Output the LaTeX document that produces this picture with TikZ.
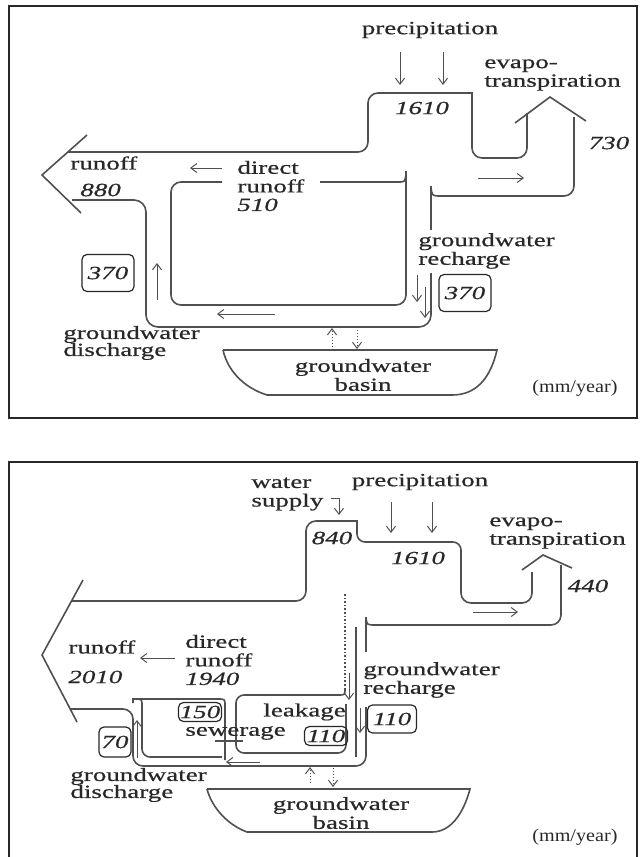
\documentclass[tikz,border=0pt]{standalone}
\usepackage{fontspec}
\setmainfont{Liberation Serif}[FakeStretch=1.45,FakeBold=0.6]
\newfontfamily\unitfont{Liberation Serif}[FakeStretch=1.12]
\usetikzlibrary{arrows.meta}
\definecolor{Ink}{RGB}{80,80,80}
\definecolor{Txt}{RGB}{40,40,40}

\begin{document}
\begin{tikzpicture}[x=0.5pt,y=-0.5pt,
 wall/.style={draw=Ink,line width=0.8pt},
 frame/.style={draw=Txt,line width=0.7pt},
 fl/.style={-{Straight Barb[length=3pt,width=4.5pt]},line width=0.5pt,draw=Ink},
 dfl/.style={fl,densely dotted},
 lbl/.style={inner sep=0pt,align=left,text=Txt,font=\fontsize{9.3}{9.3}\selectfont},
 num/.style={inner sep=0pt,text=Txt,font=\fontsize{9.3}{9.5}\selectfont\itshape},
 vbox/.style={draw=Txt,rounded corners=2.5pt,line width=0.6pt,inner sep=0pt,minimum width=26pt,minimum height=18.5pt,text=Txt,font=\fontsize{9.3}{9.5}\selectfont\itshape}]
\useasboundingbox (0,0) rectangle (642,857);

% ---- natural catchment (top) ----
\draw[frame] (9,6) rectangle (637,418);
\node[lbl] (precA) at (430,30) {precipitation};
\draw[fl] (400,52) -- (400,85);
\draw[fl] (443,52) -- (443,85);
\draw[wall,rounded corners=5pt] (68,152) -- (368,152) -- (368,93) [sharp corners] -- (472,93) [rounded corners=5pt] -- (472,158) -- (527,158) -- (527,113);
\draw[wall] (515,123) -- (550,97) -- (586,121);
\draw[wall,rounded corners=5pt] (574,117) -- (574,196) -- (441,196);
\draw[wall] (441,196) .. controls (432,196) .. (431,187);
\draw[wall] (431,186) -- (431,230);
\draw[wall] (87,135) -- (42,175) -- (81,213);
\draw[wall,rounded corners=6pt] (72,200) -- (146,200) -- (146,327) -- (431,327) -- (431,273);
\draw[wall,rounded corners=5pt] (222,182) -- (171,182) -- (171,305) -- (406,305) -- (406,171);
\draw[wall] (320,182) -- (398,182) .. controls (405,182) .. (406,174);
\node[num] (pA) at (422,108) {1610};
\node[lbl,anchor=west] (etA) at (484,75) {evapo-\\transpiration};
\node[num] (etvA) at (609,143) {730};
\node[lbl,anchor=west] (roA) at (70,163) {runoff};
\node[num,anchor=west] (rovA) at (80,190) {880};
\node[lbl,anchor=west] (drA) at (237,186) {direct\\runoff\\\textit{510}};
\draw[fl] (222,168) -- (190,168);
\draw[fl] (478,178) -- (524,178);
\node[vbox] (gdvA) at (108,273) {370};
\draw[fl] (157,300) -- (157,263);
\draw[fl] (275,314) -- (217,314);
\node[lbl,anchor=west,font=\fontsize{9.3}{8.5}\selectfont] (gdA) at (63,343) {groundwater\\discharge};
\node[lbl,anchor=west] (grA) at (418,251) {groundwater\\recharge};
\draw[fl] (417,275) -- (417,302);
\draw[fl] (425,287) -- (425,318);
\node[vbox] (grvA) at (465,293) {370};
\draw[dfl] (332,347) -- (332,328);
\draw[dfl] (357,330) -- (357,349);
\draw[wall] (223,350) -- (497,350) .. controls (490,380) and (475,395) .. (452,395) -- (267,395) .. controls (245,388) and (228,372) .. (223,350);
\node[lbl,align=center,font=\fontsize{9.3}{8}\selectfont] (bsA) at (363,375) {groundwater\\basin};
\node[inner sep=0pt,anchor=west,text=Txt,font=\unitfont\fontsize{9}{9}\selectfont] (uA) at (532,388) {(mm/year)};

% ---- urbanised catchment (bottom) ----
\draw[frame] (9,857) -- (9,462) -- (637,462) -- (637,857);
\node[lbl,anchor=west] (wsB) at (251,494) {water\\supply};
\draw[fl] (331,498) -- (339,498) -- (339,515);
\node[lbl] (precB) at (420,482) {precipitation};
\draw[fl] (391,502) -- (391,533);
\draw[fl] (432,502) -- (432,533);
\draw[wall,rounded corners=5pt] (72,601) -- (306,601) -- (306,521) [sharp corners] -- (357,521) [rounded corners=4pt] -- (357,542) -- (461,542) [rounded corners=5pt] -- (461,603) -- (532,603) -- (532,572);
\draw[wall] (522,570) -- (543,555) -- (572,568);
\draw[wall,rounded corners=5pt] (561,565) -- (561,625) -- (376,625);
\draw[wall] (376,625) .. controls (367,625) .. (366,618);
\draw[wall] (366,617) -- (366,652);
\node[num] (swB) at (332,538) {840};
\node[num] (pB) at (418,558) {1610};
\node[lbl,anchor=west] (etB) at (489,533) {evapo-\\transpiration};
\node[num] (etvB) at (588,586) {440};
\draw[fl] (473,612) -- (518,612);
\draw[wall] (83,580) -- (42,655) -- (77,722);
\node[lbl,anchor=west] (roB) at (68,647) {runoff};
\node[num,anchor=west] (rovB) at (68,677) {2010};
\node[lbl,anchor=west] (drB) at (185,660) {direct\\runoff\\\textit{1940}};
\draw[fl] (175,658) -- (140,658);
% pipes and channels
\draw[wall,densely dotted] (345,594) -- (345,689);
\draw[wall,rounded corners=5pt] (71,709) -- (133,709) -- (133,766) -- (366,766) -- (366,707);
\draw[wall] (133,703) -- (133,699) -- (218,699) .. controls (225,699) .. (225,706) -- (225,760);
\draw[wall] (135,699) .. controls (142,699) .. (142,706);
\draw[wall,rounded corners=4pt] (142,705) -- (142,757) -- (222,757);
\draw[wall] (215,741) -- (243,741);
\draw[wall] (345,688) .. controls (345,695) .. (339,695);
\draw[wall,rounded corners=4pt] (340,695) -- (236,695) -- (236,753) -- (346,753) -- (346,704);
\draw[wall] (356,627) -- (356,757);
\draw[fl] (137,758) -- (137,720);
\draw[fl] (349,673) -- (349,700);
\draw[fl] (360,708) -- (360,733);
\draw[fl] (260,762) -- (226,762);
\node[vbox,minimum width=21.5pt,minimum height=9.5pt] (swvB) at (200,712) {150};
\node[lbl,anchor=west] (swlB) at (185,733) {sewerage};
\node[lbl,anchor=west] (lkB) at (263,712) {leakage};
\node[vbox,minimum width=21.5pt,minimum height=9.5pt] (lkvB) at (326,736) {110};
\node[vbox,minimum width=24.5pt,minimum height=14pt] (grvB) at (392,719) {110};
\node[lbl,anchor=west] (grB) at (363,680) {groundwater\\recharge};
\node[vbox,minimum width=16pt,minimum height=15pt] (gdvB) at (115,742) {70};
\node[lbl,anchor=west,font=\fontsize{9.3}{8.5}\selectfont] (gdB) at (70,785) {groundwater\\discharge};
\draw[dfl] (310,783) -- (310,767);
\draw[dfl] (333,768) -- (333,787);
\draw[wall] (207,789) -- (470,789) .. controls (463,815) and (450,832) .. (432,832) -- (247,832) .. controls (228,825) and (212,808) .. (207,789);
\node[lbl,align=center,font=\fontsize{9.3}{8}\selectfont] (bsB) at (341,813) {groundwater\\basin};
\node[inner sep=0pt,anchor=west,text=Txt,font=\unitfont\fontsize{9}{9}\selectfont] (uB) at (532,837) {(mm/year)};
\end{tikzpicture}
\end{document}
